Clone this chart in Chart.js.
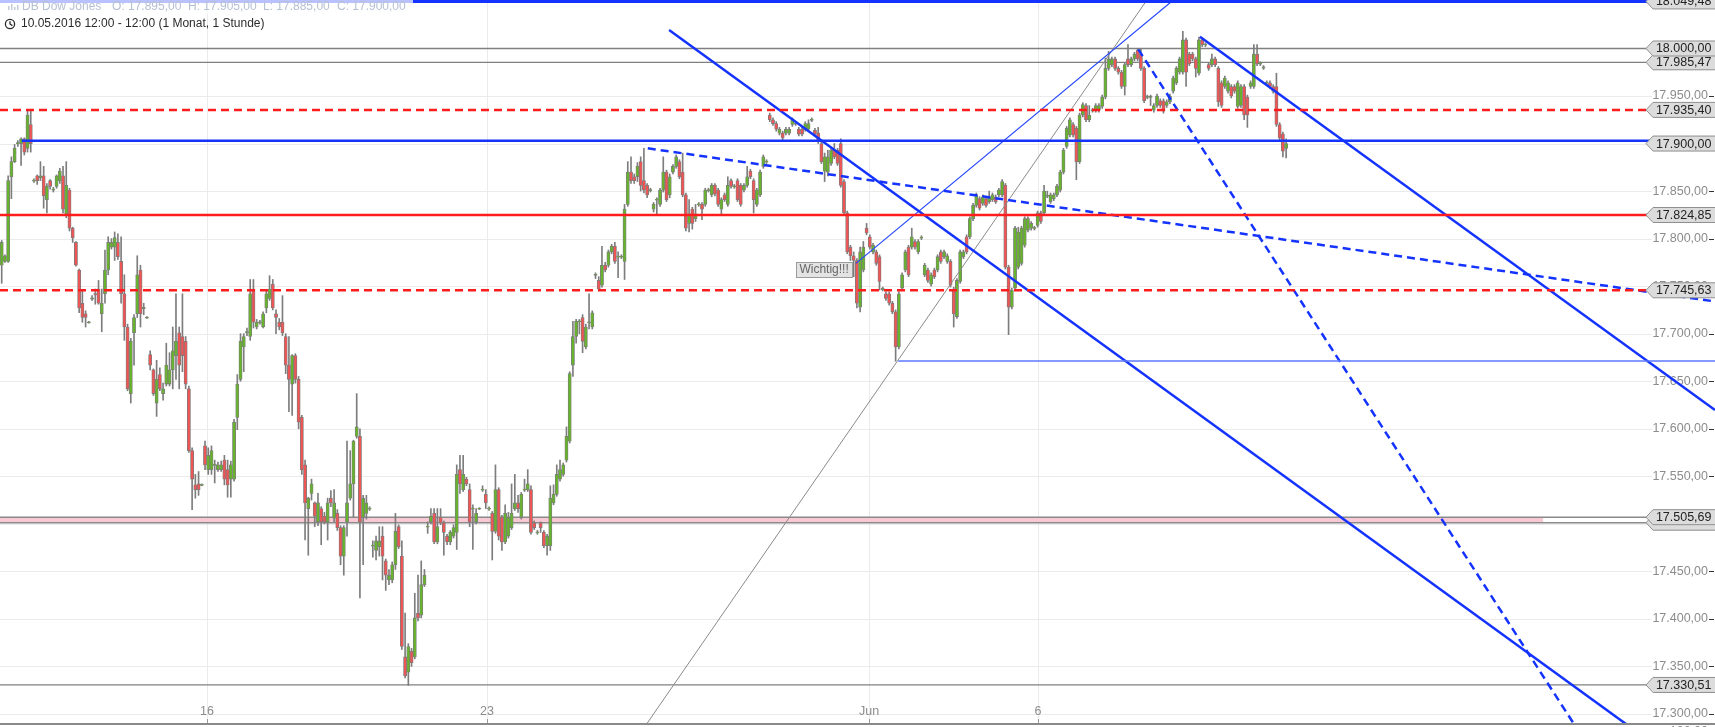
<!DOCTYPE html>
<html>
<head>
<meta charset="utf-8">
<title>DB Dow Jones</title>
<script src="https://cdn.jsdelivr.net/npm/chart.js@4.4.1/dist/chart.umd.min.js"></script>
<style>
  html, body { margin: 0; padding: 0; background: #fff; overflow: hidden; }
  canvas { display: block; }
</style>
</head>
<body>
<canvas id="chart" width="1715" height="727"></canvas>
<script>
// hourly candles from 10.05.2016 12:00, each [open, high, low, close]
const candles = [
  [17772,17798,17753,17796],[17776,17783,17775,17782],[17776,17866,17775,17861],[17865,17886,17842,17881],[17881,17899,17880,17895],
  [17900,17903,17897,17901],[17900,17906,17877,17905],[17905,17906,17888,17891],[17895,17935,17891,17930],[17920,17935,17891,17900],
  [17861,17863,17859,17861],[17866,17867,17857,17861],[17864,17881,17861,17866],[17866,17876,17832,17845],[17841,17858,17827,17855],
  [17861,17862,17852,17855],[17851,17854,17849,17852],[17855,17867,17853,17866],[17861,17874,17858,17871],[17866,17876,17827,17831],
  [17826,17881,17822,17856],[17851,17853,17808,17811],[17811,17812,17796,17801],[17796,17797,17771,17772],[17767,17768,17722,17727],
  [17732,17745,17712,17717],[17721,17724,17707,17717],[17712,17713,17711,17712],[17737,17740,17735,17737],[17742,17747,17731,17741],
  [17747,17756,17731,17732],[17721,17747,17702,17732],[17742,17788,17732,17767],[17767,17802,17762,17796],[17791,17800,17789,17796],
  [17791,17807,17777,17801],[17796,17805,17778,17781],[17776,17802,17732,17742],[17742,17762,17693,17707],[17707,17710,17640,17642],
  [17637,17695,17627,17692],[17701,17720,17667,17717],[17721,17782,17717,17762],[17767,17772,17707,17721],[17727,17732,17720,17727],
  [17717,17718,17716,17717],[17678,17682,17662,17667],[17662,17663,17635,17637],[17627,17672,17613,17652],[17657,17664,17640,17642],
  [17637,17648,17630,17642],[17647,17690,17645,17667],[17647,17680,17645,17662],[17662,17707,17642,17682],[17677,17742,17652,17692],
  [17701,17707,17642,17667],[17697,17742,17660,17677],[17692,17697,17642,17647],[17642,17645,17575,17577],[17577,17580,17515,17547],
  [17541,17552,17527,17536],[17542,17555,17530,17536],[17541,17542,17540,17541],[17582,17587,17557,17562],[17557,17580,17552,17572],
  [17557,17582,17552,17577],[17562,17567,17543,17562],[17557,17565,17555,17562],[17557,17566,17555,17562],[17567,17572,17541,17547],
  [17557,17567,17528,17541],[17547,17566,17528,17562],[17547,17610,17545,17607],[17612,17657,17599,17647],[17652,17700,17650,17692],
  [17686,17700,17660,17697],[17701,17706,17698,17702],[17697,17757,17693,17742],[17747,17757,17706,17712],[17707,17715,17705,17712],
  [17712,17714,17710,17712],[17707,17723,17706,17721],[17727,17746,17722,17742],[17737,17761,17735,17747],[17752,17757,17725,17727],
  [17721,17725,17700,17717],[17712,17716,17704,17707],[17712,17740,17698,17701],[17697,17700,17658,17667],[17667,17697,17618,17652],
  [17647,17678,17614,17677],[17677,17679,17648,17652],[17652,17655,17600,17607],[17612,17614,17552,17557],[17562,17567,17483,17522],
  [17516,17528,17467,17527],[17532,17547,17525,17542],[17522,17523,17497,17508],[17502,17532,17498,17522],[17516,17518,17478,17502],
  [17508,17512,17500,17502],[17502,17527,17483,17522],[17527,17535,17518,17522],[17506,17536,17502,17522],[17511,17515,17493,17496],
  [17496,17498,17457,17466],[17466,17498,17446,17496],[17502,17587,17487,17522],[17527,17577,17525,17542],[17542,17588,17507,17587],
  [17592,17637,17590,17602],[17592,17600,17422,17502],[17507,17530,17457,17527],[17511,17530,17505,17522],[17516,17518,17514,17516],
  [17477,17482,17465,17477],[17472,17487,17462,17482],[17476,17497,17466,17482],[17487,17497,17441,17466],[17461,17463,17430,17446],
  [17441,17452,17436,17446],[17441,17460,17438,17457],[17457,17511,17452,17492],[17497,17499,17474,17476],[17466,17482,17368,17371],
  [17360,17406,17338,17340],[17344,17374,17330,17371],[17366,17369,17350,17354],[17360,17427,17358,17401],[17406,17446,17398,17401],
  [17404,17461,17401,17436],[17436,17452,17434,17446],[17497,17502,17490,17497],[17502,17516,17500,17508],[17511,17516,17479,17481],
  [17481,17516,17479,17497],[17507,17516,17499,17501],[17501,17503,17467,17491],[17487,17489,17478,17481],[17481,17493,17478,17491],
  [17487,17499,17485,17496],[17491,17562,17473,17552],[17557,17572,17532,17542],[17536,17572,17534,17552],[17547,17549,17540,17542],
  [17536,17542,17497,17502],[17516,17520,17473,17516],[17502,17516,17500,17511],[17516,17517,17515,17516],[17536,17540,17534,17536],
  [17531,17536,17516,17522],[17516,17518,17514,17516],[17511,17513,17462,17492],[17492,17562,17490,17536],[17536,17538,17483,17487],
  [17507,17509,17472,17481],[17481,17520,17479,17511],[17487,17512,17485,17507],[17496,17542,17494,17511],[17516,17552,17514,17522],
  [17522,17530,17512,17516],[17507,17533,17505,17531],[17536,17547,17534,17536],[17536,17557,17534,17542],[17536,17540,17489,17491],
  [17501,17503,17494,17496],[17491,17493,17489,17491],[17501,17502,17491,17496],[17491,17493,17475,17477],[17477,17489,17467,17487],
  [17477,17540,17472,17527],[17522,17541,17520,17531],[17531,17562,17529,17552],[17547,17567,17545,17557],[17552,17564,17550,17562],
  [17567,17602,17565,17592],[17587,17660,17585,17658],[17667,17713,17655,17697],[17697,17715,17690,17713],[17713,17715,17700,17713],
  [17717,17720,17680,17692],[17686,17710,17684,17707],[17712,17742,17705,17712],[17707,17724,17705,17722],[17762,17764,17758,17762],
  [17756,17760,17745,17747],[17751,17792,17749,17772],[17772,17775,17765,17767],[17772,17788,17770,17786],[17786,17794,17784,17792],
  [17792,17796,17774,17776],[17781,17786,17759,17781],[17781,17783,17779,17781],[17776,17836,17757,17831],[17836,17881,17834,17870],
  [17870,17886,17858,17861],[17865,17868,17858,17861],[17865,17880,17860,17876],[17881,17886,17850,17856],[17861,17895,17848,17851],
  [17856,17858,17843,17846],[17851,17853,17849,17851],[17831,17838,17828,17836],[17841,17843,17826,17841],[17836,17853,17834,17851],
  [17851,17886,17849,17870],[17870,17872,17839,17841],[17846,17868,17843,17865],[17870,17878,17868,17876],[17876,17888,17874,17886],
  [17881,17883,17863,17865],[17870,17890,17844,17846],[17846,17848,17808,17811],[17816,17841,17807,17826],[17831,17833,17810,17816],
  [17821,17836,17818,17826],[17836,17838,17834,17836],[17836,17838,17820,17831],[17836,17853,17834,17851],[17851,17853,17849,17851],
  [17846,17858,17844,17856],[17856,17858,17845,17847],[17851,17853,17834,17836],[17831,17843,17826,17841],[17846,17848,17839,17841],
  [17836,17865,17834,17856],[17861,17863,17853,17855],[17855,17857,17853,17855],[17861,17863,17839,17841],[17856,17858,17834,17836],
  [17851,17858,17849,17856],[17856,17876,17854,17865],[17871,17873,17863,17865],[17861,17863,17827,17841],[17836,17853,17834,17851],
  [17846,17872,17844,17870],[17876,17888,17874,17886],[17881,17883,17879,17881],[17930,17932,17923,17925],[17925,17927,17919,17921],
  [17921,17923,17913,17915],[17911,17917,17909,17915],[17911,17913,17902,17906],[17911,17917,17909,17915],[17911,17917,17909,17915],
  [17920,17927,17918,17925],[17921,17923,17919,17921],[17915,17917,17908,17910],[17915,17917,17908,17910],[17915,17923,17913,17921],
  [17915,17925,17913,17921],[17925,17927,17923,17925],[17914,17916,17908,17910],[17911,17917,17900,17902],[17900,17902,17879,17881],
  [17871,17890,17860,17886],[17870,17893,17866,17886],[17879,17895,17877,17893],[17893,17900,17884,17886],[17893,17895,17877,17879],
  [17900,17905,17854,17856],[17860,17862,17825,17827],[17827,17829,17784,17786],[17791,17793,17777,17782],[17782,17786,17760,17777],
  [17777,17779,17727,17732],[17728,17791,17723,17786],[17767,17797,17765,17791],[17811,17816,17804,17806],[17802,17804,17789,17791],
  [17786,17795,17784,17793],[17786,17788,17772,17774],[17781,17783,17746,17755],[17747,17749,17745,17747],[17742,17744,17735,17737],
  [17742,17744,17730,17732],[17732,17734,17721,17723],[17723,17725,17671,17686],[17686,17744,17684,17742],[17748,17764,17746,17762],
  [17767,17788,17765,17786],[17791,17793,17760,17762],[17791,17811,17789,17802],[17797,17799,17789,17791],[17786,17799,17784,17797],
  [17801,17803,17799,17801],[17762,17774,17760,17772],[17767,17769,17754,17756],[17752,17764,17750,17762],[17767,17769,17758,17760],
  [17767,17783,17765,17781],[17786,17788,17774,17776],[17781,17788,17779,17786],[17776,17784,17774,17782],[17776,17778,17749,17751],
  [17747,17749,17707,17721],[17718,17758,17716,17756],[17755,17788,17753,17786],[17781,17788,17779,17786],[17802,17804,17784,17786],
  [17802,17823,17800,17821],[17821,17837,17819,17835],[17835,17848,17833,17846],[17842,17844,17830,17832],[17837,17846,17835,17844],
  [17842,17844,17833,17835],[17839,17850,17837,17844],[17841,17848,17839,17846],[17844,17846,17837,17839],[17846,17853,17844,17851],
  [17846,17862,17844,17860],[17856,17858,17768,17770],[17770,17772,17699,17728],[17728,17748,17726,17746],[17748,17813,17746,17811],
  [17770,17812,17768,17807],[17774,17813,17772,17811],[17793,17823,17791,17821],[17809,17823,17807,17821],[17811,17818,17809,17816],
  [17811,17813,17809,17811],[17814,17829,17812,17827],[17827,17829,17816,17818],[17827,17856,17825,17850],[17845,17850,17843,17845],
  [17839,17848,17837,17846],[17842,17848,17840,17846],[17846,17857,17844,17855],[17851,17872,17849,17870],[17870,17895,17868,17893],
  [17897,17918,17895,17916],[17909,17927,17907,17925],[17920,17922,17907,17909],[17916,17918,17862,17881],[17881,17932,17879,17930],
  [17930,17943,17928,17941],[17940,17942,17923,17925],[17925,17940,17923,17930],[17935,17937,17933,17935],[17935,17942,17933,17940],
  [17935,17942,17933,17940],[17939,17951,17937,17949],[17949,17990,17947,17979],[17979,17997,17977,17989],[17983,17991,17981,17989],
  [17989,17991,17977,17979],[17979,17981,17973,17975],[17975,17977,17958,17960],[17960,17985,17951,17983],[17989,18004,17981,17983],
  [17983,17991,17981,17989],[17989,17996,17987,17994],[17998,18000,17987,17989],[17994,17999,17977,17979],[17979,17981,17943,17945],
  [17949,17951,17947,17949],[17949,17951,17940,17949],[17935,17942,17933,17940],[17940,17952,17938,17950],[17945,17947,17938,17940],
  [17945,17947,17932,17934],[17940,17946,17938,17944],[17944,17952,17942,17950],[17955,17971,17953,17969],[17964,17981,17962,17979],
  [17975,17991,17973,17989],[17975,18018,17973,18009],[18009,18011,17960,17975],[17994,17996,17982,17984],[17994,17996,17987,17989],
  [17989,17991,17970,17979],[17974,18012,17972,18009],[18009,18011,18002,18004],[18004,18006,18002,18004],[17983,17985,17977,17979],
  [17983,17994,17981,17989],[17989,17991,17981,17983],[17979,17981,17939,17944],[17964,17966,17938,17940],[17960,17971,17958,17969],
  [17955,17966,17953,17964],[17960,17962,17948,17950],[17960,17962,17953,17955],[17939,17966,17937,17964],[17940,17962,17938,17960],
  [17960,17962,17925,17930],[17949,17951,17917,17930],[17960,17966,17958,17964],[17960,18004,17958,17994],[17994,18004,17982,17984],
  [17984,17986,17982,17984],[17980,17982,17978,17980],[17964,17966,17962,17964],[17964,17966,17958,17960],[17960,17962,17953,17955],
  [17960,17974,17918,17920],[17920,17922,17904,17906],[17910,17912,17886,17892],[17895,17905,17885,17900]
];

// price axis ticks and day labels (candle index where the day starts)
const yTicks = [17300, 17350, 17400, 17450, 17500, 17550, 17600, 17650, 17700, 17750, 17800, 17850, 17900, 17950, 18000];
const dateLabels = ['16', '23', 'Jun', '6'];
const dateTickIdx = [63.6, 150.4, 268.8, 321.1];

// drawn horizontal levels: price (and first candle index where it starts)
const levelTopBlue = [18049.48];
const levelGray = [18000, 17985.47, 17330.51];
const levelRedSolid = [17824.85];
const levelRedDashed = [17935.40, 17745.63];
const levelBlue = [[17903, 6.2]];
const levelBlueThin = [[17671.3, 277.8]];
const zonePrices = [17501.2, 17507.0];
const zoneEndIdx = 477.6;
const tagPrices = [18049.48, 18000, 17985.47, 17935.40, 17900, 17824.85, 17745.63, 17505.69, 17330.51];

// drawn trend lines: [index1, price1, index2, price2]
const trendBlueThick = [[206.8, 18019.4, 504.6, 17286.3], [371.3, 18012.4, 530.9, 17619.8]];
const trendBlueDashed = [[200.2, 17895.0, 530.9, 17733.9], [352.2, 17999.1, 487.8, 17286.3]];
const trendBlueThin = [[264.7, 17774.0, 366.8, 18061.5]];
const trendGray = [[199.2, 17286.3, 357.0, 18061.5]];

const note = {text: 'Wichtig!!!', idx: 246.1, price: 17767.5};

const RED = '#ee5656';
const GREEN = '#68b32e';
const OUTLINE = '#7d7d7d';
const BLUE = '#1433ff';
const LINE_RED = '#ff1c1c';
const FONT = '"Liberation Sans", Arial, sans-serif';

Chart.defaults.font.family = FONT;

const fmt = v => {
  const parts = v.toFixed(2).split('.');
  return parts[0].replace(/\B(?=(\d{3})+(?!\d))/g, '.') + ',' + parts[1];
};

const X_MIN = -0.53, X_MAX = 530.9;

function seg(x1, y1, x2, y2, color, width, dash, order) {
  return {
    type: 'line',
    data: [{x: x1, y: y1}, {x: x2, y: y2}],
    borderColor: color,
    borderWidth: width,
    borderDash: dash || [],
    pointRadius: 0,
    fill: false,
    tension: 0,
    order: order === undefined ? 1 : order
  };
}

const wickData = candles.map((c, i) => ({x: i, y: [c[2], c[1]]}));
const bodyData = candles.map((c, i) => {
  const lo = Math.min(c[0], c[3]), hi = Math.max(c[0], c[3]);
  if (hi - lo < 1.2) {
    const mid = (hi + lo) / 2;
    return {x: i, y: [mid - 0.6, mid + 0.6]};
  }
  return {x: i, y: [lo, hi]};
});
const bodyColors = candles.map(c => c[3] >= c[0] ? GREEN : RED);

const datasets = [];
// zone edges below the candles
zonePrices.forEach(p => datasets.push(seg(X_MIN, p, X_MAX, p, '#8a8a8a', 1.5, null, 5)));
levelGray.forEach(p => datasets.push(seg(X_MIN, p, X_MAX, p, '#808080', 1.3, null, 5)));

datasets.push({
  type: 'bar', data: wickData, backgroundColor: OUTLINE,
  barThickness: 1, grouped: false, order: 4
});
datasets.push({
  type: 'bar', data: bodyData, backgroundColor: bodyColors,
  borderColor: OUTLINE, borderWidth: 0.8, borderSkipped: false,
  barThickness: 3.2, grouped: false, order: 3
});

levelTopBlue.forEach(p => datasets.push(seg(X_MIN, p, X_MAX, p, BLUE, 3)));
levelRedSolid.forEach(p => datasets.push(seg(X_MIN, p, X_MAX, p, LINE_RED, 2.5)));
levelRedDashed.forEach(p => datasets.push(seg(X_MIN, p, X_MAX, p, LINE_RED, 2.5, [8, 5])));
levelBlue.forEach(l => datasets.push(seg(l[1], l[0], X_MAX, l[0], BLUE, 2.5)));
levelBlueThin.forEach(l => datasets.push(seg(l[1], l[0], X_MAX, l[0], '#5b78ff', 1.5)));
trendBlueThick.forEach(t => datasets.push(seg(t[0], t[1], t[2], t[3], BLUE, 2.5)));
trendBlueDashed.forEach(t => datasets.push(seg(t[0], t[1], t[2], t[3], BLUE, 2.5, [8, 5])));
trendBlueThin.forEach(t => datasets.push(seg(t[0], t[1], t[2], t[3], '#2447ff', 1.2)));
trendGray.forEach(t => datasets.push(seg(t[0], t[1], t[2], t[3], '#8a8a8a', 1)));

// grid, zone fill and axis labels underneath everything
const backdrop = {
  id: 'backdrop',
  beforeDatasetsDraw(chart) {
    const {ctx, chartArea: a, scales: {x, y}} = chart;
    ctx.save();
    ctx.lineWidth = 1;
    ctx.strokeStyle = '#ebebeb';
    yTicks.forEach(v => {
      const py = Math.round(y.getPixelForValue(v)) + 0.5;
      ctx.beginPath(); ctx.moveTo(0, py); ctx.lineTo(1652, py); ctx.stroke();
    });
    dateTickIdx.forEach(v => {
      const px = Math.round(x.getPixelForValue(v)) + 0.5;
      ctx.beginPath(); ctx.moveTo(px, a.top); ctx.lineTo(px, a.bottom); ctx.stroke();
    });

    // pink zone
    const zt = y.getPixelForValue(zonePrices[1]), zb = y.getPixelForValue(zonePrices[0]);
    ctx.fillStyle = '#f8c8d3';
    ctx.fillRect(0, zt, x.getPixelForValue(zoneEndIdx), zb - zt);

    ctx.font = '12.5px ' + FONT;
    ctx.fillStyle = '#8c8c8c';
    ctx.textAlign = 'right';
    ctx.textBaseline = 'middle';
    ctx.strokeStyle = '#333';
    yTicks.forEach(v => {
      const py = y.getPixelForValue(v);
      ctx.fillText(fmt(v), 1708, py);
      ctx.beginPath(); ctx.moveTo(1709, Math.round(py) + 0.5); ctx.lineTo(1714, Math.round(py) + 0.5); ctx.stroke();
    });

    ctx.textAlign = 'center';
    ctx.strokeStyle = '#999';
    dateTickIdx.forEach((v, i) => {
      const px = x.getPixelForValue(v);
      ctx.fillText(dateLabels[i], px, a.bottom - 11);
      ctx.beginPath(); ctx.moveTo(Math.round(px) + 0.5, a.bottom - 4); ctx.lineTo(Math.round(px) + 0.5, a.bottom); ctx.stroke();
    });
    ctx.restore();
  }
};

function priceTag(ctx, py, text) {
  ctx.beginPath();
  ctx.moveTo(1646, py);
  ctx.lineTo(1653, py - 7.5);
  ctx.lineTo(1716, py - 7.5);
  ctx.lineTo(1716, py + 7.5);
  ctx.lineTo(1653, py + 7.5);
  ctx.closePath();
  ctx.fillStyle = '#dcdcdc';
  ctx.fill();
  ctx.strokeStyle = '#8f8f8f';
  ctx.lineWidth = 1;
  ctx.stroke();
  if (text) {
    ctx.fillStyle = '#222';
    ctx.fillText(text, 1711.5, py + 0.5);
  }
}

// price tags, note box, frame and header on top
const overlay = {
  id: 'overlay',
  afterDatasetsDraw(chart) {
    const {ctx, chartArea: a, scales: {x, y}} = chart;
    ctx.save();
    ctx.font = '12.5px ' + FONT;
    ctx.textAlign = 'right';
    ctx.textBaseline = 'middle';
    const sorted = tagPrices.slice().sort((p, q) => p - q);
    sorted.forEach(p => {
      if (p === 17505.69) {
        priceTag(ctx, y.getPixelForValue(zonePrices[0]), '');
        priceTag(ctx, y.getPixelForValue(zonePrices[1]), fmt(p));
      } else {
        priceTag(ctx, y.getPixelForValue(p), fmt(p));
      }
    });

    // bottom frame of the price pane
    ctx.strokeStyle = '#8a8a8a';
    ctx.lineWidth = 2;
    ctx.beginPath(); ctx.moveTo(0, a.bottom + 1); ctx.lineTo(1715, a.bottom + 1); ctx.stroke();
    ctx.fillStyle = '#8c8c8c';
    ctx.textBaseline = 'alphabetic';
    ctx.fillText('100,00', 1708, a.bottom + 12);

    // note box
    ctx.font = '12px ' + FONT;
    const nx = x.getPixelForValue(note.idx), ny = y.getPixelForValue(note.price);
    const tw = ctx.measureText(note.text).width + 7;
    ctx.fillStyle = '#e3e3e3';
    ctx.fillRect(Math.round(nx) + 0.5, Math.round(ny - 7.5) + 0.5, Math.round(tw), 15);
    ctx.strokeStyle = '#9b9b9b';
    ctx.lineWidth = 1;
    ctx.strokeRect(Math.round(nx) + 0.5, Math.round(ny - 7.5) + 0.5, Math.round(tw), 15);
    ctx.fillStyle = '#666';
    ctx.textAlign = 'left';
    ctx.textBaseline = 'middle';
    ctx.fillText(note.text, nx + 3.5, ny + 0.5);

    // header
    const last = candles[candles.length - 1];
    ctx.fillStyle = 'rgba(255,255,255,0.7)';
    ctx.fillRect(0, 0, 413, 14);
    ctx.font = '12px ' + FONT;
    ctx.fillStyle = '#b6c0d3';
    ctx.textBaseline = 'middle';
    ctx.fillText('DB Dow Jones', 22, 7);
    ctx.fillText('O: ' + fmt(last[0]), 112, 7);
    ctx.fillText('H: ' + fmt(last[1]), 188, 7);
    ctx.fillText('L: ' + fmt(last[2]), 263, 7);
    ctx.fillText('C: ' + fmt(last[3]), 337, 7);
    ctx.fillStyle = '#c3cbdb';
    [[8, 6, 4], [11, 4, 6], [14, 7, 3], [17, 5, 5]].forEach(b => ctx.fillRect(b[0], b[1], 1.5, b[2]));

    ctx.fillStyle = '#2b2b2b';
    ctx.fillText('10.05.2016 12:00 - 12:00 (1 Monat, 1 Stunde)', 21, 24);
    ctx.strokeStyle = '#2b2b2b';
    ctx.lineWidth = 1.3;
    ctx.beginPath(); ctx.arc(10, 24, 4.6, 0, Math.PI * 2); ctx.stroke();
    ctx.beginPath(); ctx.moveTo(10, 21.2); ctx.lineTo(10, 24); ctx.lineTo(12.4, 25.6); ctx.stroke();
    ctx.restore();
  }
};

const ctx = document.getElementById('chart').getContext('2d');
new Chart(ctx, {
  type: 'bar',
  data: {datasets: datasets},
  options: {
    responsive: false,
    animation: false,
    devicePixelRatio: 1,
    layout: {padding: {left: 0, right: 0, top: 0, bottom: 4}},
    plugins: {legend: {display: false}, tooltip: {enabled: false}},
    scales: {
      x: {type: 'linear', min: X_MIN, max: X_MAX, offset: false, display: false},
      y: {type: 'linear', min: 17290.5, max: 18051, display: false}
    }
  },
  plugins: [backdrop, overlay]
});
</script>
</body>
</html>
